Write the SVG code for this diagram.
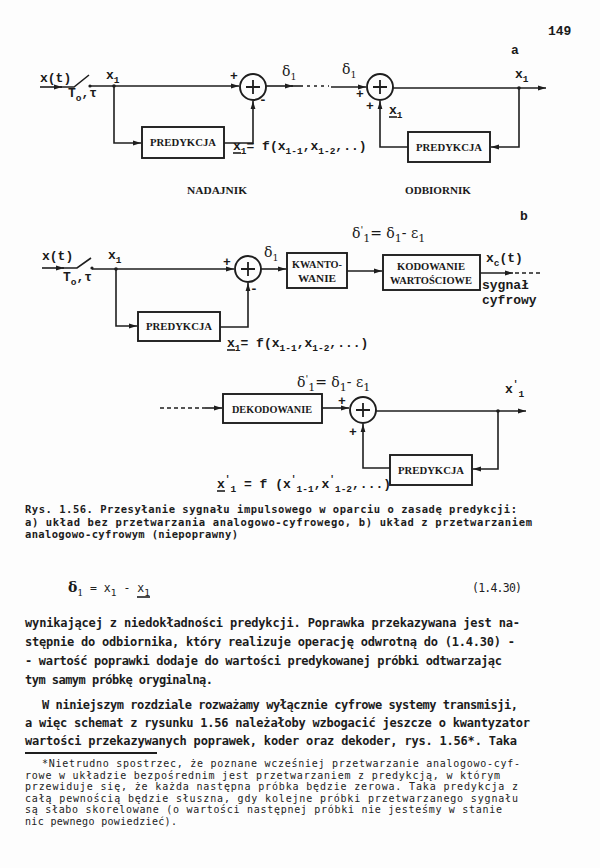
<svg xmlns="http://www.w3.org/2000/svg" width="600" height="868" viewBox="0 0 600 868">
<defs>
  <marker id="arr" viewBox="0 0 8 6" markerWidth="8" markerHeight="6" refX="8" refY="3" orient="auto" markerUnits="userSpaceOnUse">
    <path d="M0,0.6 L8,3 L0,5.4 z" fill="#1e1e1e"/>
  </marker>
  <style>
    .ln{fill:none;stroke:#1e1e1e;stroke-width:1.6}
    .dash{fill:none;stroke:#1e1e1e;stroke-width:1.6;stroke-dasharray:4 3}
    .dot{fill:#1e1e1e}
    .box{fill:none;stroke:#1e1e1e;stroke-width:1.9}
    .sum{fill:#fdfdfd;stroke:#1e1e1e;stroke-width:1.9}
    .plus{stroke:#1e1e1e;stroke-width:1.8}
    .lbl{font-family:"Liberation Mono","DejaVu Sans Mono",monospace;font-weight:bold;font-size:13px;fill:#1a1a1a}
    .sm{font-size:9.5px}
    .hand{font-family:"DejaVu Serif","Liberation Serif",serif;font-size:14px;fill:#1a1a1a}
    .bx{font-family:"Liberation Serif","DejaVu Serif",serif;font-weight:bold;font-size:11px;fill:#1a1a1a}
    .ttl{font-family:"Liberation Serif","DejaVu Serif",serif;font-weight:bold;font-size:11px;fill:#1a1a1a}
    .cap{font-family:"DejaVu Sans Mono","Liberation Mono",monospace;font-weight:bold;font-size:10.5px;fill:#1c1c1c}
    .eq{font-family:"DejaVu Sans Mono","Liberation Mono",monospace;font-size:11.5px;fill:#222}
    .body{font-family:"DejaVu Sans Mono","Liberation Mono",monospace;font-weight:bold;font-size:12px;fill:#1c1c1c}
    .fn{font-family:"DejaVu Sans Mono","Liberation Mono",monospace;font-size:10px;fill:#222}
  </style>
</defs>
<rect width="600" height="868" fill="#fdfdfd"/>

<text class="lbl" x="548" y="35" font-size="12">149</text>

<!-- ===== a) transmitter and receiver ===== -->
<g id="connectors-a">
  <path class="ln" d="M40,87 H62" marker-end="url(#arr)"/>
  <path class="ln" d="M60,87 H74 L89,75"/>
  <circle class="dot" cx="90" cy="86" r="1.6"/>
  <path class="ln" d="M90,86 H239" marker-end="url(#arr)"/>
  <circle class="dot" cx="114" cy="86" r="1.8"/>
  <path class="ln" d="M114,86 V143 H141" marker-end="url(#arr)"/>
  <path class="ln" d="M224,143 H253 V101" marker-end="url(#arr)"/>
  <path class="ln" d="M266,86 H293" marker-end="url(#arr)"/>
  <path class="ln" d="M291,86 H303"/>
  <path class="ln" d="M307,86 H329" stroke-dasharray="3 4"/>
  <path class="ln" d="M331,87 H366" marker-end="url(#arr)"/>
  <path class="ln" d="M393,88 H546" marker-end="url(#arr)"/>
  <circle class="dot" cx="519" cy="88" r="1.8"/>
  <path class="ln" d="M519,88 V147 H491" marker-end="url(#arr)"/>
  <path class="ln" d="M408,147 H380 V101" marker-end="url(#arr)"/>
</g>
<g id="sum-a1">
  <circle class="sum" cx="253" cy="87" r="13"/>
  <path class="plus" d="M246,87 H260 M253,80 V94"/>
</g>
<g id="pred-a1">
  <rect class="box" x="142" y="127" width="82" height="31"/>
  <text class="bx" x="183" y="146" text-anchor="middle" textLength="66" lengthAdjust="spacingAndGlyphs">PREDYKCJA</text>
</g>
<g id="sum-a2">
  <circle class="sum" cx="380" cy="87" r="13"/>
  <path class="plus" d="M373,87 H387 M380,80 V94"/>
</g>
<g id="pred-a2">
  <rect class="box" x="408" y="132" width="82" height="30"/>
  <text class="bx" x="449" y="151" text-anchor="middle" textLength="66" lengthAdjust="spacingAndGlyphs">PREDYKCJA</text>
</g>
<g id="labels-a">
  <text class="lbl" x="40" y="82">x(t)</text>
  <text class="lbl" x="68" y="97">T<tspan class="sm" dy="4">o</tspan><tspan dy="-4">,τ</tspan></text>
  <text class="lbl" x="106" y="79">x<tspan class="sm" dy="4">1</tspan></text>
  <text class="lbl" x="230" y="80" font-size="11">+</text>
  <text class="lbl" x="259" y="104" font-size="12">-</text>
  <text class="hand" x="282" y="76">δ<tspan class="sm" dy="4" font-size="11">1</tspan></text>
  <text class="lbl" x="233" y="150">x<tspan class="sm" dy="4">1</tspan><tspan dy="-4">= f(x</tspan><tspan class="sm" dy="4">1-1</tspan><tspan dy="-4">,x</tspan><tspan class="sm" dy="4">1-2</tspan><tspan dy="-4">,..)</tspan></text>
  <path class="ln" d="M233,153 H241" stroke-width="1.3"/>
  <text class="hand" x="342" y="74">δ<tspan class="sm" dy="4" font-size="11">1</tspan></text>
  <text class="lbl" x="356" y="98" font-size="11">+</text>
  <text class="lbl" x="366" y="110" font-size="11">+</text>
  <text class="lbl" x="389" y="114">x<tspan class="sm" dy="4">1</tspan></text>
  <path class="ln" d="M389,117 H397" stroke-width="1.3"/>
  <text class="lbl" x="515" y="78">x<tspan class="sm" dy="4">1</tspan></text>
  <text class="lbl" x="511" y="54" font-weight="normal">a</text>
  <text class="ttl" x="217" y="194" text-anchor="middle" textLength="60" lengthAdjust="spacingAndGlyphs">NADAJNIK</text>
  <text class="ttl" x="438" y="194" text-anchor="middle" textLength="66" lengthAdjust="spacingAndGlyphs">ODBIORNIK</text>
</g>

<!-- ===== b) transmitter with quantizer and coder ===== -->
<g id="connectors-b">
  <path class="ln" d="M42,268 H64" marker-end="url(#arr)"/>
  <path class="ln" d="M62,268 H77 L91,258"/>
  <circle class="dot" cx="92" cy="268" r="1.6"/>
  <path class="ln" d="M92,269 H234" marker-end="url(#arr)"/>
  <circle class="dot" cx="116" cy="269" r="1.8"/>
  <path class="ln" d="M116,269 V326 H137" marker-end="url(#arr)"/>
  <path class="ln" d="M220,327 H248 V283" marker-end="url(#arr)"/>
  <path class="ln" d="M261,269 H286" marker-end="url(#arr)"/>
  <path class="ln" d="M347,271 H382" marker-end="url(#arr)"/>
  <path class="ln" d="M480,273 H513" marker-end="url(#arr)"/>
  <path class="dash" d="M515,273 H543"/>
</g>
<g id="sum-b">
  <circle class="sum" cx="248" cy="269" r="13"/>
  <path class="plus" d="M241,269 H255 M248,262 V276"/>
</g>
<g id="pred-b">
  <rect class="box" x="138" y="312" width="82" height="29"/>
  <text class="bx" x="179" y="330" text-anchor="middle" textLength="66" lengthAdjust="spacingAndGlyphs">PREDYKCJA</text>
</g>
<g id="kwant-b">
  <rect class="box" x="287" y="253" width="60" height="35"/>
  <text class="bx" x="317" y="268" text-anchor="middle" textLength="50" lengthAdjust="spacingAndGlyphs">KWANTO-</text>
  <text class="bx" x="317" y="282" text-anchor="middle" textLength="38" lengthAdjust="spacingAndGlyphs">WANIE</text>
</g>
<g id="kod-b">
  <rect class="box" x="383" y="255" width="97" height="35"/>
  <text class="bx" x="431" y="270" text-anchor="middle" textLength="68" lengthAdjust="spacingAndGlyphs">KODOWANIE</text>
  <text class="bx" x="431" y="284" text-anchor="middle" textLength="82" lengthAdjust="spacingAndGlyphs">WARTOŚCIOWE</text>
</g>
<g id="labels-b">
  <text class="lbl" x="42" y="260">x(t)</text>
  <text class="lbl" x="63" y="281">T<tspan class="sm" dy="4">o</tspan><tspan dy="-4">,τ</tspan></text>
  <text class="lbl" x="108" y="259">x<tspan class="sm" dy="4">1</tspan></text>
  <text class="lbl" x="223" y="266" font-size="11">+</text>
  <text class="lbl" x="250" y="293" font-size="12">-</text>
  <text class="hand" x="264" y="257">δ<tspan class="sm" dy="4" font-size="11">1</tspan></text>
  <text class="lbl" x="227" y="347">x<tspan class="sm" dy="4">1</tspan><tspan dy="-4">= f(x</tspan><tspan class="sm" dy="4">1-1</tspan><tspan dy="-4">,x</tspan><tspan class="sm" dy="4">1-2</tspan><tspan dy="-4">,...)</tspan></text>
  <path class="ln" d="M227,350 H235" stroke-width="1.3"/>
  <text class="hand" x="352" y="238">δ<tspan font-size="10" dy="-5">'</tspan><tspan font-size="11" dy="9">1</tspan><tspan dy="-4">= δ</tspan><tspan font-size="11" dy="4">1</tspan><tspan dy="-4">- ε</tspan><tspan font-size="11" dy="4">1</tspan></text>
  <text class="lbl" x="486" y="262">x<tspan class="sm" dy="4">c</tspan><tspan dy="-4">(t)</tspan></text>
  <text class="lbl" x="482" y="289" font-size="10">sygnał</text>
  <text class="lbl" x="482" y="304" font-size="10">cyfrowy</text>
  <text class="lbl" x="520" y="220" font-weight="normal">b</text>
</g>

<!-- ===== b) receiver with decoder ===== -->
<g id="connectors-c">
  <path class="dash" d="M160,408 H205"/>
  <path class="ln" d="M205,408 H222" marker-end="url(#arr)"/>
  <path class="ln" d="M322,408 H349" marker-end="url(#arr)"/>
  <path class="ln" d="M376,411 H526" marker-end="url(#arr)"/>
  <circle class="dot" cx="498" cy="411" r="1.8"/>
  <path class="ln" d="M498,411 V469 H473" marker-end="url(#arr)"/>
  <path class="ln" d="M390,468 H363 V424" marker-end="url(#arr)"/>
</g>
<g id="dekod-c">
  <rect class="box" x="223" y="394" width="99" height="29"/>
  <text class="bx" x="272" y="413" text-anchor="middle" textLength="80" lengthAdjust="spacingAndGlyphs">DEKODOWANIE</text>
</g>
<g id="sum-c">
  <circle class="sum" cx="363" cy="410" r="13"/>
  <path class="plus" d="M356,410 H370 M363,403 V417"/>
</g>
<g id="pred-c">
  <rect class="box" x="390" y="455" width="82" height="30"/>
  <text class="bx" x="431" y="474" text-anchor="middle" textLength="66" lengthAdjust="spacingAndGlyphs">PREDYKCJA</text>
</g>
<g id="labels-c">
  <text class="hand" x="297" y="387" font-size="15">δ<tspan font-size="10" dy="-5">'</tspan><tspan font-size="11" dy="9">1</tspan><tspan dy="-4">= δ</tspan><tspan font-size="11" dy="4">1</tspan><tspan dy="-4">- ε</tspan><tspan font-size="11" dy="4">1</tspan></text>
  <text class="lbl" x="338" y="405" font-size="11">+</text>
  <text class="lbl" x="349" y="436" font-size="11">+</text>
  <text class="lbl" x="505" y="393">x<tspan class="sm" dy="-6">'</tspan><tspan class="sm" dy="10">1</tspan></text>
  <text class="lbl" x="217" y="488">x<tspan class="sm" dy="-6">'</tspan><tspan class="sm" dy="10">1</tspan><tspan dy="-4"> = f (x</tspan><tspan class="sm" dy="-6">'</tspan><tspan class="sm" dy="10">1-1</tspan><tspan dy="-4">,x</tspan><tspan class="sm" dy="-6">'</tspan><tspan class="sm" dy="10">1-2</tspan><tspan dy="-4">,...)</tspan></text>
  <path class="ln" d="M217,491 H225" stroke-width="1.3"/>
</g>

<!-- ===== caption ===== -->
<g id="caption">
  <text class="cap" x="25" y="513" textLength="492" lengthAdjust="spacing">Rys. 1.56. Przesyłanie sygnału impulsowego w oparciu o zasadę predykcji:</text>
  <text class="cap" x="25" y="525.5" textLength="507" lengthAdjust="spacing">a) układ bez przetwarzania analogowo-cyfrowego, b) układ z przetwarzaniem</text>
  <text class="cap" x="25" y="538" textLength="213" lengthAdjust="spacing">analogowo-cyfrowym (niepoprawny)</text>
</g>

<!-- ===== equation (1.4.30) ===== -->
<g id="equation">
  <text class="hand" x="68" y="592" font-size="14" font-weight="bold">δ<tspan class="sm" dy="4" font-size="11" font-weight="normal">1</tspan></text>
  <text class="eq" x="90" y="592">= x<tspan class="sm" dy="4">1</tspan><tspan dy="-4"> - x</tspan><tspan class="sm" dy="4">1</tspan></text>
  <path class="ln" d="M137,597 H150" stroke-width="1.2"/>
  <text class="eq" x="472" y="592" textLength="50" lengthAdjust="spacing">(1.4.30)</text>
</g>

<!-- ===== body text ===== -->
<g id="body">
  <text class="body" x="25" y="627" textLength="495" lengthAdjust="spacing">wynikającej z niedokładności predykcji. Poprawka przekazywana jest na-</text>
  <text class="body" x="25" y="646" textLength="490" lengthAdjust="spacing">stępnie do odbiornika, który realizuje operację odwrotną do (1.4.30) -</text>
  <text class="body" x="25" y="665" textLength="477" lengthAdjust="spacing">- wartość poprawki dodaje do wartości predykowanej próbki odtwarzając</text>
  <text class="body" x="25" y="684" textLength="188" lengthAdjust="spacing">tym samym próbkę oryginalną.</text>
  <text class="body" x="42" y="709" textLength="476" lengthAdjust="spacing">W niniejszym rozdziale rozważamy wyłącznie cyfrowe systemy transmisji,</text>
  <text class="body" x="25" y="727" textLength="505" lengthAdjust="spacing">a więc schemat z rysunku 1.56 należałoby wzbogacić jeszcze o kwantyzator</text>
  <text class="body" x="25" y="745" textLength="492" lengthAdjust="spacing">wartości przekazywanych poprawek, koder oraz dekoder, rys. 1.56*. Taka</text>
</g>

<!-- ===== footnote ===== -->
<g id="footnote">
  <path d="M25,753 H157" stroke="#1e1e1e" stroke-width="2"/>
  <text class="fn" x="42" y="767" textLength="478" lengthAdjust="spacing">*Nietrudno spostrzec, że poznane wcześniej przetwarzanie analogowo-cyf-</text>
  <text class="fn" x="25" y="778.6" textLength="475" lengthAdjust="spacing">rowe w układzie bezpośrednim jest przetwarzaniem z predykcją, w którym</text>
  <text class="fn" x="25" y="790.2" textLength="493" lengthAdjust="spacing">przewiduje się, że każda następna próbka będzie zerowa. Taka predykcja z</text>
  <text class="fn" x="25" y="801.8" textLength="493" lengthAdjust="spacing">całą pewnością będzie słuszna, gdy kolejne próbki przetwarzanego sygnału</text>
  <text class="fn" x="25" y="813.4" textLength="477" lengthAdjust="spacing">są słabo skorelowane (o wartości następnej próbki nie jesteśmy w stanie</text>
  <text class="fn" x="25" y="825" textLength="152" lengthAdjust="spacing">nic pewnego powiedzieć).</text>
</g>
</svg>
